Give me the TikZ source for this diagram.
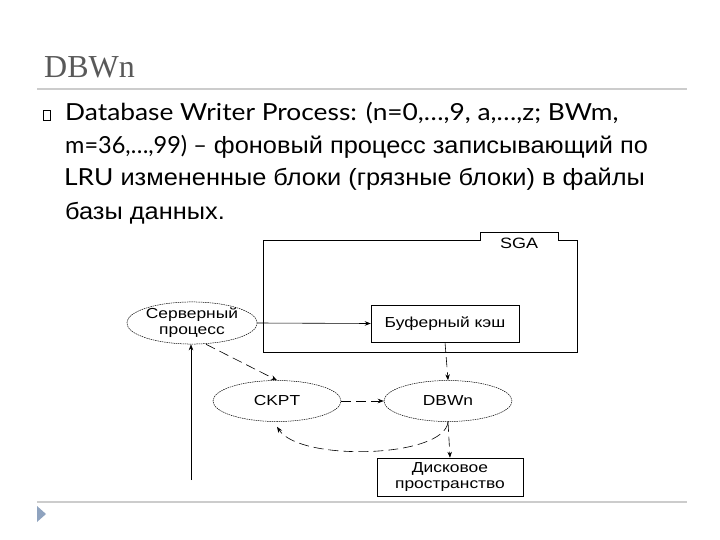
\documentclass[tikz,border=0pt]{standalone}
\usepackage{fontspec}
\setmainfont[FakeStretch=1.08]{Liberation Sans}
\newfontfamily\titlefont{Liberation Serif}
\newfontfamily\latinfont[FakeStretch=1.12]{Lato}
\newfontfamily\latinnarrow[FakeStretch=1.0]{Lato}
\newfontfamily\diagfont[FakeStretch=1.2]{Liberation Sans}
\usetikzlibrary{arrows.meta,shapes.geometric}
\definecolor{titlegray}{HTML}{595959}
\definecolor{rulegray}{HTML}{CCCCCC}
\definecolor{footblue}{HTML}{8FA3BF}
\newcommand{\lat}[1]{{\latinfont #1}}

\begin{document}
\begin{tikzpicture}[x=1pt,y=1pt,yscale=-1,
  line/.style={anchor=base west,inner sep=0pt,font=\fontsize{23.5}{32}\selectfont},
  proc/.style={draw,ellipse,line width=0.5pt,dash pattern=on 1.5pt off 0.8pt,
    minimum width=128pt,minimum height=41pt,inner sep=0pt,align=center,
    font=\diagfont\fontsize{14.5}{16}\selectfont},
  store/.style={draw,line width=0.5pt,inner sep=0pt,align=center,
    font=\diagfont\fontsize{14.5}{16}\selectfont},
  flow/.style={-{Stealth[length=6pt,width=4.5pt]},line width=0.6pt},
  dflow/.style={flow,dash pattern=on 10pt off 5pt}]
  \useasboundingbox (0,0) rectangle (720,540);

  %% Slide header
  \node[anchor=base west,inner sep=0pt,text=titlegray,
    font=\titlefont\fontsize{32}{32}\selectfont] (title) at (44,78) {DBWn};
  \draw[rulegray,line width=2pt] (37,89) coordinate (rulel) -- (687,89) coordinate (ruler);
  \draw[line width=0.5pt] (43,110) rectangle (50,120);
  \node[line] (body1) at (65,121) {\lat{Database Writer Process: (n=0,\dots,9, a,\dots,z; BWm,}};
  \node[line] (body2) at (65,154) {{\latinnarrow m=36,\dots,99) –} фоновый процесс записывающий по};
  \node[line] (body3) at (64,186) {\lat{LRU} измененные блоки (грязные блоки) в файлы};
  \node[line] (body4) at (65,219) {базы данных.};

  %% SGA
  \draw[line width=0.6pt]
    (480,240) -- (263,240) -- (263,352) -- (577,352) -- (577,240) -- (558,240)
    -- (558,232) -- (480,232) -- cycle;
  \node[font=\diagfont\fontsize{15}{15}\selectfont] (sga) at (519,243) {SGA};
  \node[store,minimum width=148pt,minimum height=37pt] (cache) at (445,323.5) {Буферный кэш};

  %% Processes
  \node[proc] (server) at (192,323) {Серверный\\процесс};
  \node[proc] (ckpt) at (277,401) {CKPT};
  \node[proc] (dbwn) at (448,401) {DBWn};
  \node[store,minimum width=146pt,minimum height=38pt] (disk) at (450,477) {Дисковое\\пространство};

  %% Flows
  \coordinate (user) at (191,480);
  \draw[flow] (server.east) -- (cache.west);
  \draw[flow] (user) -- (server.south -| user);
  \draw[dflow] (server.south) ++(14,0) -- (ckpt.north);
  \draw[dflow] (cache.south) -- (dbwn.north);
  \draw[dflow] (ckpt.east) -- (dbwn.west);
  \draw[dflow] (dbwn.south) -- (disk.north);
  \draw[dflow] (dbwn.south) .. controls (445,458) and (300,462) .. ([yshift=5pt]ckpt.south);

  %% Footer
  \draw[rulegray,line width=2pt] (37,502) coordinate (footl) -- (687,502) coordinate (footr);
  \fill[footblue] (37,506) -- (46,514) -- (37,522) -- cycle;
\end{tikzpicture}
\end{document}
